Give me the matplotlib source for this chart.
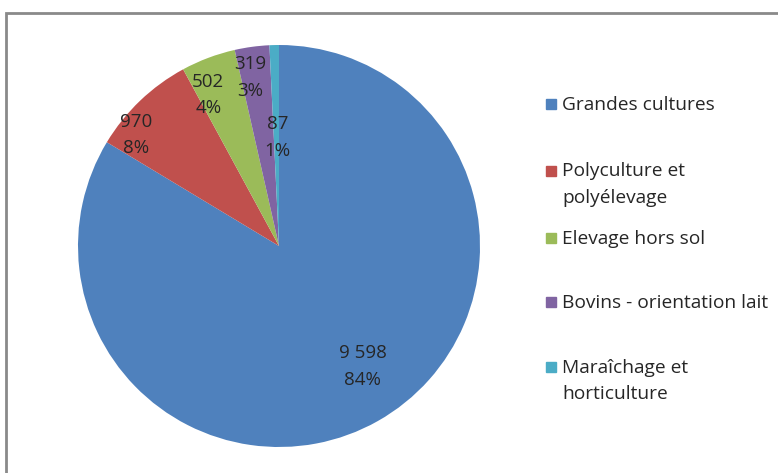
import numpy as np
import matplotlib.pyplot as plt
from matplotlib.patches import Rectangle

# Données du graphique
categories = ["Grandes cultures", "Polyculture et\npolyélevage", "Elevage hors sol",
              "Bovins - orientation lait", "Maraîchage et\nhorticulture"]
valeurs = [9598, 970, 502, 319, 87]
couleurs = ["#4F81BD", "#C0504D", "#9BBB59", "#8064A2", "#4BACC6"]

plt.rcParams['font.family'] = ['Open Sans', 'DejaVu Sans']

W, H = 778, 473
fig = plt.figure(figsize=(W / 100, H / 100), dpi=100)

# cadre gris autour du graphique
fig.patches.append(Rectangle((6 / W, -0.1), 1.1, 1.1 - 13 / H, transform=fig.transFigure,
                             fill=False, edgecolor="#8a8a8a", linewidth=2))

cx, cy, r = 279, 246, 201
ax = fig.add_axes([(cx - r) / W, (H - cy - r) / H, 2 * r / W, 2 * r / H])
wedges, _ = ax.pie(valeurs, colors=couleurs, startangle=90, counterclock=False,
                   wedgeprops=dict(linewidth=0))
ax.set_xlim(-1, 1)
ax.set_ylim(-1, 1)
ax.axis('off')

total = sum(valeurs)
# placement des étiquettes (rayon relatif, décalage angulaire en degrés)
dist = [0.73, 0.90, 0.83, 0.85, 0.54]
decal = [5.4, 8.5, 4.5, 2.0, -0.5]
for w, v, d, da in zip(wedges, valeurs, dist, decal):
    ang = np.deg2rad((w.theta1 + w.theta2) / 2 + da)
    txt = f"{v:,}".replace(",", " ") + f"\n{round(v / total * 100)}%"
    ax.text(d * np.cos(ang), d * np.sin(ang), txt, ha='center', va='center',
            fontsize=13.5, color="#262626", linespacing=1.6)

# légende
ys = [104, 171, 238, 302, 367]
for cat, col, y in zip(categories, couleurs, ys):
    fig.patches.append(Rectangle((546 / W, (H - y - 5) / H), 10 / W, 10 / H,
                                 transform=fig.transFigure, color=col))
    fig.text(562 / W, (H - y + 8.5) / H, cat, ha='left', va='top', fontsize=13.8,
             color="#262626", linespacing=1.62)

fig.savefig("out.png", dpi=100)
